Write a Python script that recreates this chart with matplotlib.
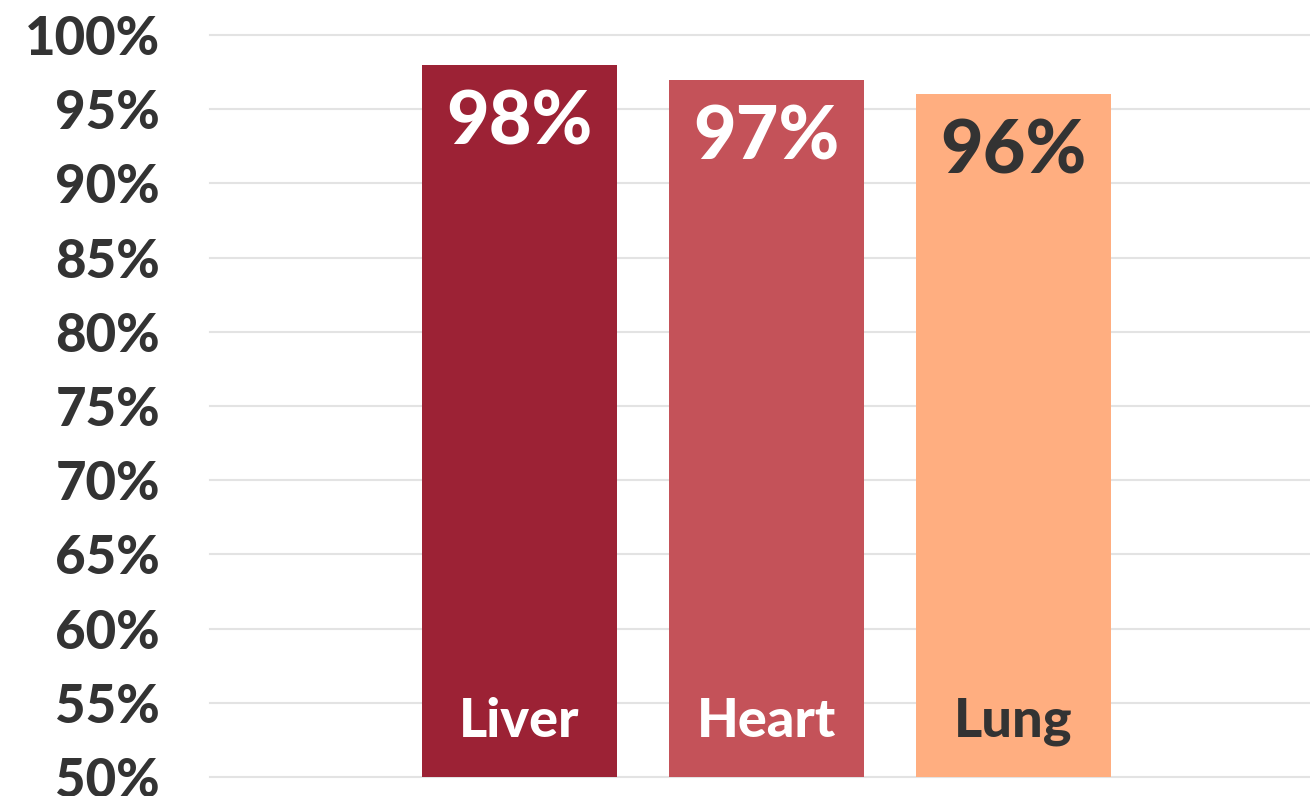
import numpy as np
import matplotlib.pyplot as plt

categories = ['Liver', 'Heart', 'Lung']
values = [98, 97, 96]
colors = ['#9C2235', '#C45259', '#FFAE80']
text_colors = ['white', 'white', '#333333']
yticks = list(range(50, 101, 5))

fig = plt.figure(figsize=(13.1, 7.96), dpi=100)
ax = fig.add_axes([210 / 1310, 1 - 777 / 796, 1100 / 1310, 742 / 796])

x = np.arange(len(categories))
bars = ax.bar(x, values, width=0.79, color=colors, bottom=0, zorder=2)

ax.set_ylim(50, 100)
ax.set_xlim(-1.253, 3.2)
ax.set_yticks(yticks)
ax.set_yticklabels([f'{t}%' for t in yticks], fontsize=38, fontweight='black',
                   family='Lato', color='#333333')
ax.set_xticks([])
ax.tick_params(axis='y', length=0, pad=36)
ax.yaxis.grid(True, color='#e3e3e3', linewidth=1.5)
ax.set_axisbelow(True)
for gl in ax.get_ygridlines():
    gl.set_clip_on(False)
for s in ax.spines.values():
    s.set_visible(False)

for xi, v, c, tc in zip(x, values, categories, text_colors):
    ax.annotate(f'{v}%', (xi, v), xytext=(0, -17), textcoords='offset points',
                ha='center', va='top', fontsize=53, fontweight='black',
                family='Lato', color=tc, zorder=3)
    ax.annotate(c, (xi, 50), xytext=(0, 29), textcoords='offset points',
                ha='center', va='baseline', fontsize=39, fontweight='black',
                family='Lato', color=tc, zorder=3)

fig.savefig('out.png', dpi=100)
